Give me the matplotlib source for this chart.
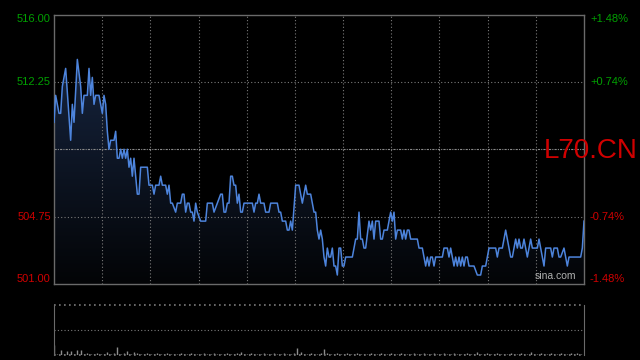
import matplotlib.pyplot as plt
import numpy as np
from matplotlib.colors import LinearSegmentedColormap
from matplotlib.transforms import blended_transform_factory

# price trace (minute index -> price)
minutes = [0, 1, 3, 4, 5, 7, 10, 11, 12, 14, 16, 17, 18, 20, 21, 22, 23, 24, 25, 27,
           28, 29, 30, 31, 32, 33, 34, 36, 37, 38, 39, 40, 41, 42, 43, 44, 45, 46, 47, 48,
           50, 51, 52, 56, 57, 59, 60, 61, 63, 64, 65, 67, 68, 69, 70, 71, 73, 74, 76, 77,
           78, 79, 80, 81, 82, 83, 84, 85, 86, 88, 91, 92, 95, 96, 98, 100, 101, 102, 103, 104,
           105, 106, 107, 108, 109, 110, 111, 112, 113, 114, 119, 120, 121, 122, 123, 124, 126, 127, 129, 130,
           134, 135, 136, 137, 139, 140, 141, 142, 143, 145, 147, 149, 151, 152, 154, 156, 157, 158, 159, 160,
           161, 162, 163, 164, 165, 166, 167, 168, 169, 170, 171, 172, 173, 174, 175, 179, 181, 182, 183, 184,
           185, 186, 187, 189, 190, 191, 192, 193, 195, 196, 197, 198, 200, 202, 203, 204, 205, 206, 208, 209,
           210, 211, 212, 213, 214, 218, 219, 221, 222, 223, 224, 225, 226, 227, 228, 229, 233, 234, 236, 237,
           238, 240, 241, 242, 243, 244, 245, 246, 247, 248, 249, 252, 254, 256, 257, 259, 261, 265, 266, 267,
           269, 271, 272, 274, 275, 277, 278, 279, 280, 281, 282, 283, 284, 285, 286, 287, 290, 291, 293, 294,
           295, 298, 299, 300, 302, 303, 304, 306, 307, 308, 309, 316, 317, 318]
prices = [510, 511.5, 510.5, 510.5, 512, 513, 509, 511, 510, 513.5, 512, 510.5, 511.5, 511.5, 513, 511.5, 512.5, 511, 511.5, 511.5,
          511, 510.5, 511.5, 511, 509.5, 508.5, 509, 509, 509.5, 508, 508, 508.5, 508, 508.5, 508, 508.5, 507.5, 508, 507, 508,
          506, 506, 507.5, 507.5, 506.5, 506.5, 506, 506.5, 506.5, 507, 506.5, 506.5, 506, 506.5, 505.5, 505.5, 505, 505.5, 505.5, 506,
          506, 505, 505.5, 505.5, 505, 505, 504.5, 505.5, 505, 504.5, 504.5, 505.5, 505.5, 505, 505.5, 506, 506, 505, 505, 505.5,
          505.5, 507, 507, 506.5, 506.5, 505.5, 506, 505, 505, 505.5, 505.5, 505, 505.5, 505.5, 506, 505.5, 505.5, 505, 505, 505.5,
          505.5, 505, 505, 504.5, 504.5, 504, 504, 504.5, 504, 506.5, 506.5, 505.5, 506.5, 506, 506, 505, 505, 504, 503.5, 504,
          503.5, 502.5, 502, 503, 502.5, 502.5, 503, 502, 502, 501.5, 503, 503, 502, 502, 502.5, 502.5, 503.5, 503.5, 505, 503.5,
          503.5, 503, 503, 504.5, 504, 504.5, 503.5, 504.5, 504.5, 503.5, 503.5, 504, 504, 505, 504.5, 505, 503.5, 504, 504, 503.5,
          504, 503.5, 504, 504, 503.5, 503.5, 503, 503, 502.5, 502, 502.5, 502, 502.5, 502.5, 502, 502.5, 502.5, 503, 503, 502.5,
          503, 502, 502.5, 502, 502.5, 502, 502.5, 502, 502.5, 502.5, 502, 502, 501.5, 501.5, 502, 502, 503, 503, 502.5, 503,
          503, 504, 503.5, 502.5, 502.5, 503.5, 503, 503.5, 503, 503, 503.5, 503, 502.5, 503, 503.5, 503, 503, 503.5, 502.5, 502,
          503, 503, 502.5, 503, 503, 502.5, 502.5, 503, 502.5, 502, 502.5, 502.5, 503, 504.5]

# volume, one bar every 2 minutes
volume = [10, 1, 5, 1, 4, 4, 1, 5, 5, 1, 2, 1, 1, 2, 1, 1, 3, 1, 2, 8,
          1, 2, 4, 1, 3, 2, 1, 1, 2, 1, 1, 2, 1, 1, 2, 1, 1, 1, 2, 1,
          1, 2, 1, 1, 1, 2, 1, 1, 2, 1, 1, 1, 2, 1, 1, 2, 3, 1, 1, 2,
          1, 1, 1, 2, 1, 1, 2, 1, 1, 2, 1, 1, 2, 7, 3, 1, 1, 2, 1, 1,
          2, 6, 2, 1, 1, 2, 1, 1, 2, 1, 1, 2, 1, 1, 1, 2, 1, 1, 2, 1,
          1, 2, 1, 1, 2, 1, 1, 1, 2, 1, 1, 2, 1, 1, 2, 1, 1, 2, 1, 1,
          2, 1, 1, 1, 2, 1, 1, 3, 1, 1, 2, 1, 1, 2, 1, 1, 1, 2, 1, 1,
          2, 1, 1, 3, 1, 1, 2, 1, 1, 2, 1, 1, 2, 1, 1, 2, 1, 2, 1]

left_ticks = [516.0, 512.25, 504.75, 501.0]
left_labels = ['516.00', '512.25', '504.75', '501.00']
right_labels = ['+1.48%', '+0.74%', '-0.74%', '-1.48%']
PREV_CLOSE = 508.5
N_MIN = 318

BG = '#000000'
FRAME = '#6a6a6a'
GRID = '#7a7a7a'
LINE = '#4d84dc'
UP = '#00a000'
DOWN = '#d00000'

fig = plt.figure(figsize=(6.4, 3.6), dpi=100, facecolor=BG)
ax = fig.add_axes([54 / 640, 76 / 360, 530 / 640, 269.5 / 360], facecolor=BG)

# gradient fill under the line
cmap = LinearSegmentedColormap.from_list('fill', ['#030406', '#16243e'])
poly = ax.fill_between(minutes, prices, 501, facecolor='none', edgecolor='none')
grad = np.linspace(0, 1, 256).reshape(-1, 1)
im = ax.imshow(grad, cmap=cmap, origin='lower', aspect='auto',
               extent=[0, N_MIN, 501, max(prices)], zorder=1)
im.set_clip_path(poly.get_paths()[0], transform=ax.transData)
ax.set_xlim(0, N_MIN)
ax.set_ylim(501, 516)

ax.plot(minutes, prices, color=LINE, lw=1.1, zorder=3)

# grid
for i in range(1, 11):
    ax.axvline(N_MIN * i / 11, color=GRID, lw=0.8, ls=(0, (1, 2)), zorder=2)
for y in [512.25, 504.75]:
    ax.axhline(y, color=GRID, lw=0.8, ls=(0, (1, 2)), zorder=2)
ax.axhline(PREV_CLOSE, color='#8a8a8a', lw=0.8, ls=(0, (2, 1, 1, 1)), zorder=2)

for s in ax.spines.values():
    s.set_color(FRAME)
    s.set_linewidth(1)
ax.set_xticks([])
ax.set_yticks([])

tr = blended_transform_factory(ax.transAxes, ax.transData)
tr_r = blended_transform_factory(fig.transFigure, ax.transData)
vas = ['top', 'center', 'center', 'bottom']
for i, y in enumerate(left_ticks):
    col = UP if y > PREV_CLOSE else DOWN
    ax.text(-0.006, y, left_labels[i], transform=tr, ha='right', va=vas[i],
            color=col, fontsize=8, family='Liberation Sans')
    ax.text(590 / 640, y, right_labels[i], transform=tr_r, ha='left', va=vas[i],
            color=col, fontsize=8, family='Liberation Sans')

fig.text(544 / 640, 1 - 151 / 360, 'L70.CN', color=DOWN, fontsize=20,
         family='Liberation Sans', ha='left', va='center', zorder=5)
ax.text(0.985, 0.01, 'sina.com', transform=ax.transAxes, ha='right', va='bottom',
        color='#b0b0b0', fontsize=7.5, family='Liberation Sans')

# volume panel
ax2 = fig.add_axes([54 / 640, 5 / 360, 530 / 640, 50 / 360], facecolor=BG)
ax2.set_xlim(0, N_MIN)
ax2.set_ylim(0, 50)
vol_x = [2 * j for j in range(len(volume))]
ax2.vlines(vol_x, 0, volume, color='#8c8c8c', lw=1)
ax2.axhline(25, color=GRID, lw=0.8, ls=(0, (1, 2)))
ax2.axhline(50, color=GRID, lw=1.2, ls=(0, (1, 2)), clip_on=False)
ax2.axhline(0, color=GRID, lw=1.2, ls=(0, (1, 2)), clip_on=False)
ax2.spines['top'].set_visible(False)
ax2.spines['bottom'].set_visible(False)
for k in ['left', 'right']:
    ax2.spines[k].set_color(FRAME)
ax2.set_xticks([])
ax2.set_yticks([])

fig.savefig('out.png', dpi=100, facecolor=BG)
